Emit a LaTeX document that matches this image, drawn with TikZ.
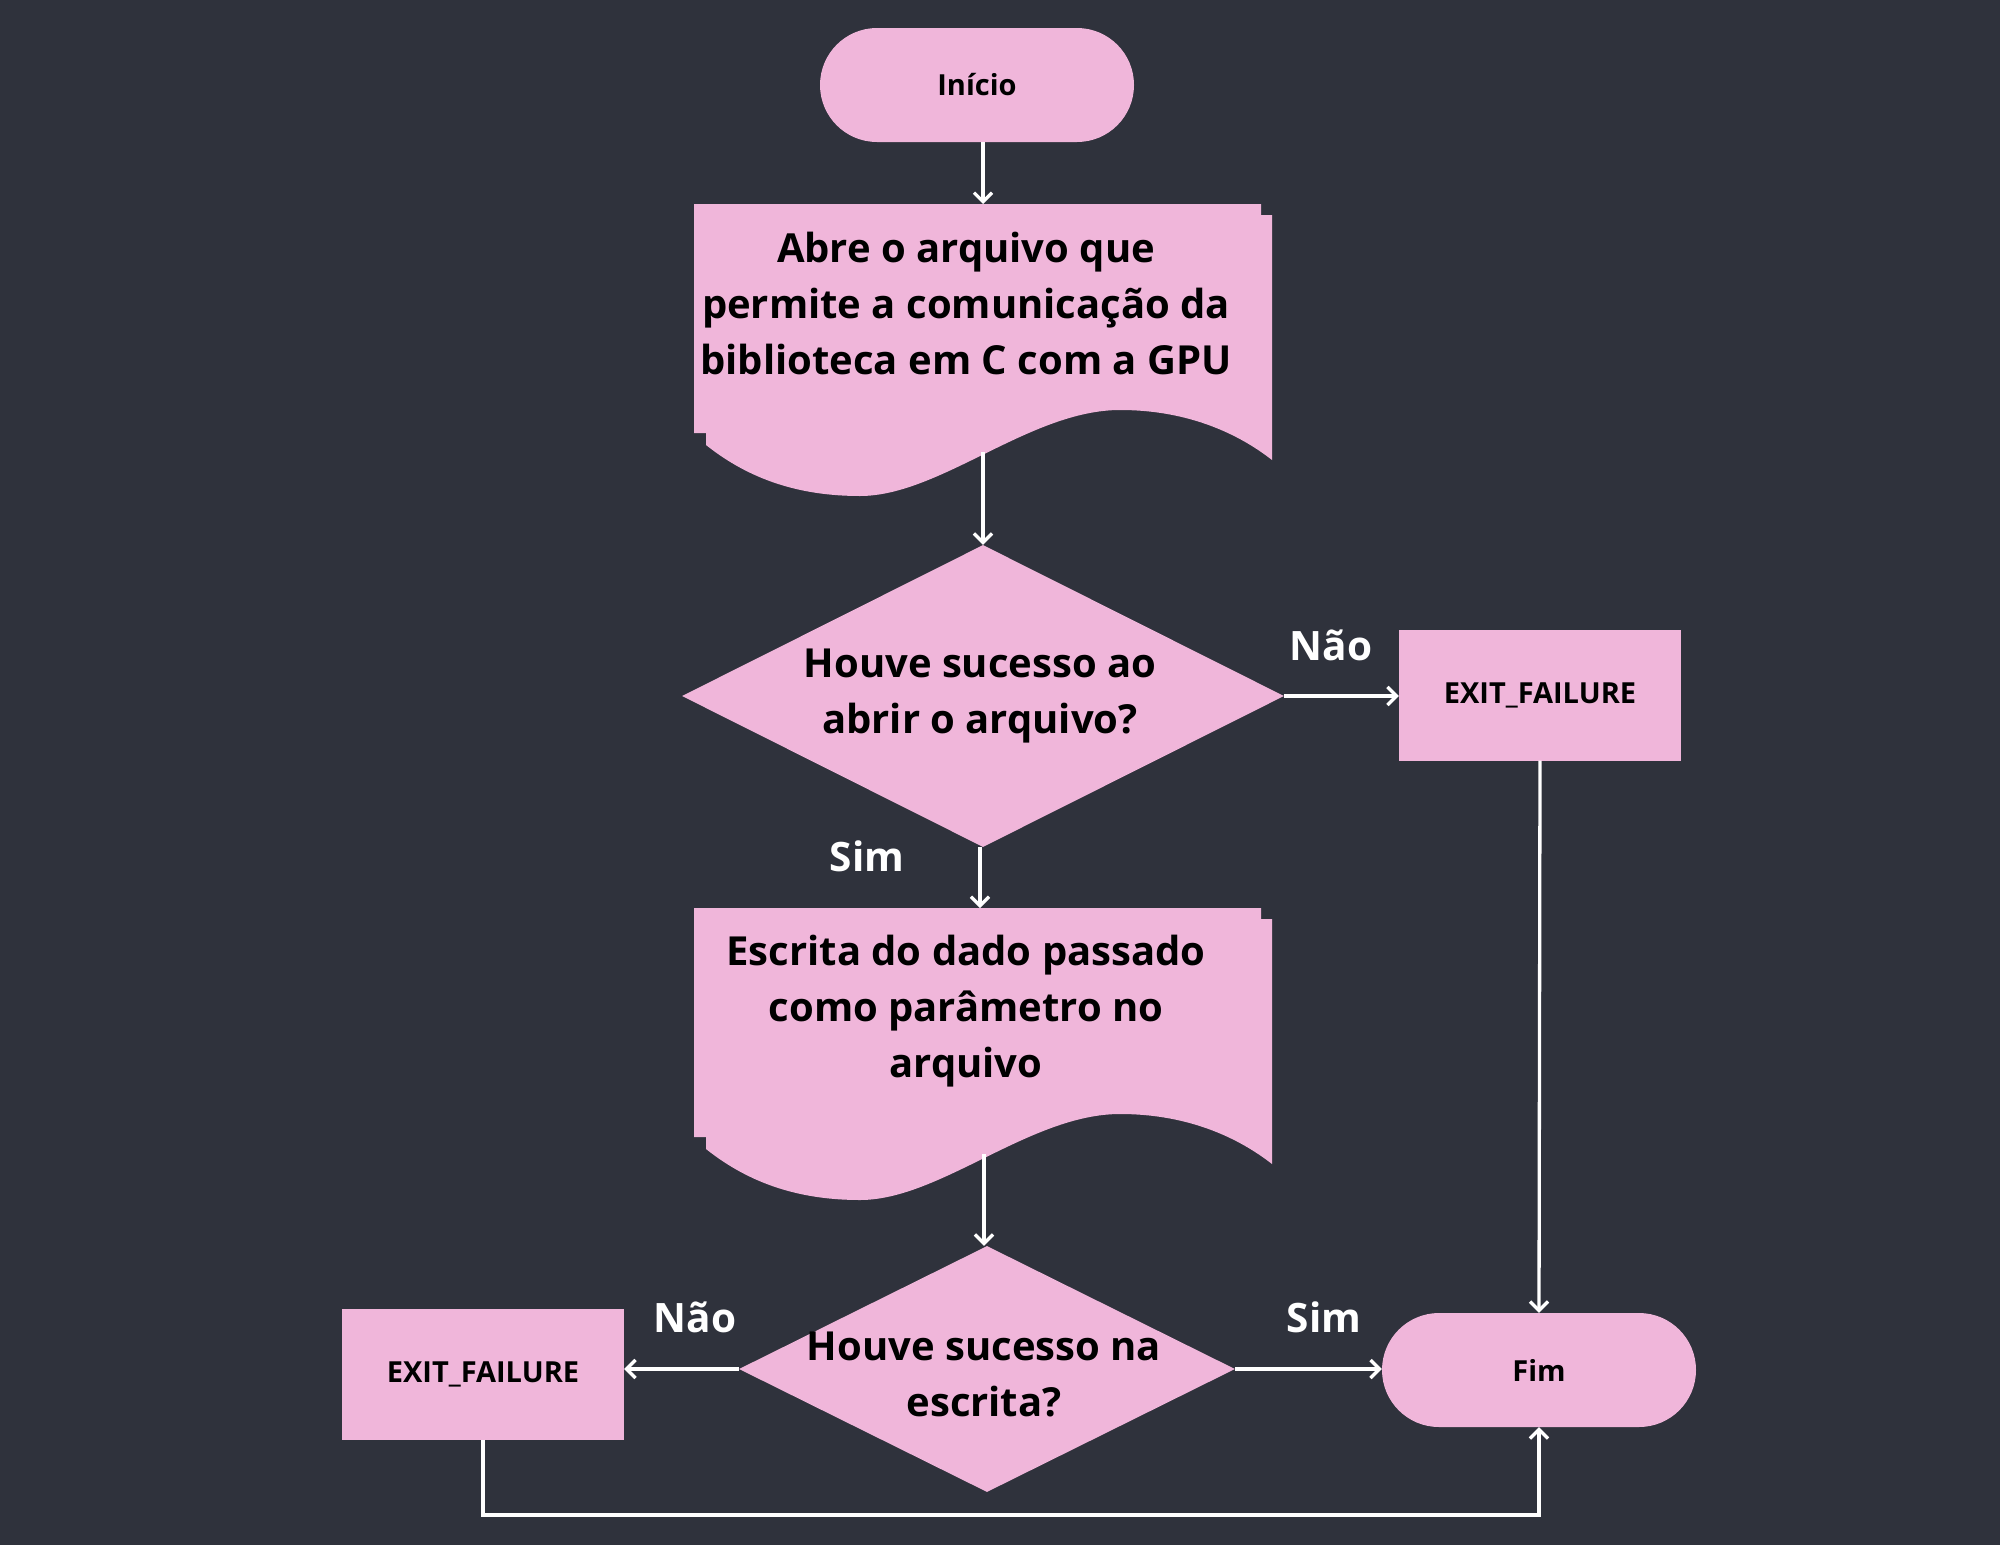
\documentclass[tikz,border=0pt]{standalone}
\usepackage{fontspec}
\setmainfont{Open Sans}
\usetikzlibrary{arrows.meta,shapes.geometric}
\definecolor{bg}{RGB}{47,50,60}
\definecolor{pinkf}{RGB}{240,182,218}
\begin{document}
\begin{tikzpicture}[x=1pt,y=-1pt,
  smalltxt/.style={font=\bfseries\fontsize{29}{34}\selectfont,text=black},
  bigtxt/.style={font=\bfseries\fontsize{40}{56}\selectfont,text=black,align=center,inner sep=0pt},
  pill/.style={fill=pinkf,draw=none,rounded corners=57pt,minimum width=314pt,minimum height=114pt,inner sep=0pt,smalltxt},
  exitbox/.style={fill=pinkf,draw=none,minimum width=282pt,minimum height=131pt,inner sep=0pt,smalltxt},
  decis/.style={diamond,aspect=2,fill=pinkf,draw=none,inner sep=0pt},
  lbl/.style={text=white,font=\bfseries\fontsize{40.5}{46}\selectfont,inner sep=0pt},
  arr/.style={draw=white,line width=3.3pt,-{Straight Barb[length=9pt,width=18pt]}},
  docshape/.style={fill=pinkf,draw=none}
]
\useasboundingbox[fill=bg] (0,0) rectangle (2000,1545);

% start
\node[pill] (inicio) at (977,85) {Início};

% document 1
\path[docshape] (694,204) -- (1261,204) -- (1261,215) -- (1272,215) -- (1272,460)
  .. controls (1240,435) and (1190,410) .. (1120,410)
  .. controls (1030,410) and (940,496) .. (860,496)
  .. controls (800,496) and (750,480) .. (706,445) -- (706,433) -- (694,433) -- cycle;
\node[bigtxt] (doc1) at (966,303) {Abre o arquivo que\\permite a comunicação da\\biblioteca em C com a GPU};
\coordinate (doc1top) at (983,204);
\coordinate (doc1bot) at (983,452);

% decision 1
\node[decis,minimum width=602pt,minimum height=302pt] (d1) at (983,696) {};
\node[bigtxt] (d1t) at (980,696) {Houve sucesso ao\\abrir o arquivo?};

% exit 1
\node[exitbox] (exit1) at (1540,695) {EXIT\_FAILURE};

% document 2
\path[docshape,yshift=-704pt] (694,204) -- (1261,204) -- (1261,215) -- (1272,215) -- (1272,460)
  .. controls (1240,435) and (1190,410) .. (1120,410)
  .. controls (1030,410) and (940,496) .. (860,496)
  .. controls (800,496) and (750,480) .. (706,445) -- (706,433) -- (694,433) -- cycle;
\node[bigtxt] (doc2) at (966,1011) {Escrita do dado passado\\como parâmetro no\\arquivo};
\coordinate (doc2top) at (980,908);
\coordinate (doc2bot) at (984,1154);

% decision 2
\node[decis,minimum width=496pt,minimum height=246pt] (d2) at (987,1369) {};
\node[bigtxt] (d2t) at (984,1374) {Houve sucesso na\\escrita?};

% exit 2
\node[exitbox] (exit2) at (483,1374) {EXIT\_FAILURE};

% end
\node[pill] (fim) at (1539,1370) {Fim};

% labels
\node[lbl] (nao1) at (1331,645) {Não};
\node[lbl] (sim1) at (867,856) {Sim};
\node[lbl] (nao2) at (695,1317) {Não};
\node[lbl] (sim2) at (1324,1317) {Sim};

% connectors
\coordinate (loop) at (1000,1515);
\draw[arr] (inicio.south -| doc1top) -- (doc1top);
\draw[arr] (doc1bot) -- (doc1bot |- d1.north);
\draw[arr] (d1.east) -- (d1.east -| exit1.west);
\draw[arr] (d1.south -| doc2top) -- (doc2top);
\draw[arr] (exit1.south) -- (fim.north);
\draw[arr] (doc2bot) -- (doc2bot |- d2.north);
\draw[arr] (d2.west) -- (d2.west -| exit2.east);
\draw[arr] (d2.east) -- (d2.east -| fim.west);
\draw[arr] (exit2.south) |- (loop) -| (fim.south);
\end{tikzpicture}
\end{document}
